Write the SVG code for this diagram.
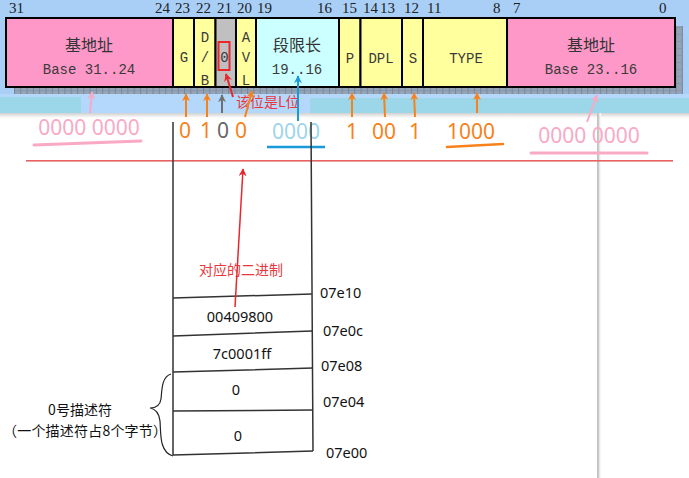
<svg xmlns="http://www.w3.org/2000/svg" width="689" height="478" viewBox="0 0 689 478">
<style>
.bit{font-family:"Liberation Serif",serif;font-size:15px;fill:#222}
.cell{stroke:#000;stroke-width:2}
.cj{font-family:"Noto Sans CJK SC",sans-serif;font-size:16px;fill:#333;text-anchor:middle}
.mo{font-family:"Liberation Mono",monospace;font-size:14px;fill:#3a3a3a;text-anchor:middle}
.bin{font-family:"Noto Sans",sans-serif;font-size:21px;text-anchor:middle}
.mem{font-family:"Noto Sans",sans-serif;font-size:14.5px;fill:#111}
.cn{font-family:"Noto Sans CJK SC",sans-serif;font-size:14px;fill:#111}
.red{font-family:"Noto Sans CJK SC",sans-serif;font-size:14px;fill:#e8383d}
.tl{stroke:#333;stroke-width:1.5;fill:none}
</style>
<defs>
<pattern id="grid" x="14" y="87" width="6.3" height="7" patternUnits="userSpaceOnUse">
<rect width="6.3" height="7" fill="#94a3b5"/>
<line x1="0.5" y1="0" x2="0.5" y2="7" stroke="#75859a" stroke-width="1"/>
<line x1="0" y1="3.5" x2="6.3" y2="3.5" stroke="#8090a4" stroke-width="0.6"/>
</pattern>
<linearGradient id="sh" x1="0" y1="0" x2="0" y2="1">
<stop offset="0" stop-color="#d0d0d0"/>
<stop offset="1" stop-color="#ffffff"/>
</linearGradient>
<linearGradient id="vsh" x1="0" y1="0" x2="1" y2="0">
<stop offset="0" stop-color="#c0c0c0"/>
<stop offset="1" stop-color="#ffffff"/>
</linearGradient>
<marker id="ao" viewBox="0 0 10 10" refX="9" refY="5" markerWidth="8" markerHeight="8" markerUnits="userSpaceOnUse" orient="auto"><path d="M0,0 L10,5 L0,10 L3,5 z" fill="#f7821b"/></marker>
<marker id="ag" viewBox="0 0 10 10" refX="9" refY="5" markerWidth="8" markerHeight="8" markerUnits="userSpaceOnUse" orient="auto"><path d="M0,0 L10,5 L0,10 L3,5 z" fill="#707070"/></marker>
<marker id="ar" viewBox="0 0 10 10" refX="9" refY="5" markerWidth="8" markerHeight="8" markerUnits="userSpaceOnUse" orient="auto"><path d="M0,0 L10,5 L0,10 L3,5 z" fill="#e8262d"/></marker>
<marker id="ab" viewBox="0 0 10 10" refX="9" refY="5" markerWidth="8" markerHeight="8" markerUnits="userSpaceOnUse" orient="auto"><path d="M0,0 L10,5 L0,10 L3,5 z" fill="#1a9ad6"/></marker>
<marker id="ap" viewBox="0 0 10 10" refX="9" refY="5" markerWidth="8" markerHeight="8" markerUnits="userSpaceOnUse" orient="auto"><path d="M0,0 L10,5 L0,10 L3,5 z" fill="#f9a9c5"/></marker>
</defs>

<!-- background -->
<rect x="0" y="0" width="689" height="478" fill="#ffffff"/>
<rect x="0" y="0" width="689" height="113" fill="#a9cff7"/>
<rect x="0" y="94" width="689" height="19" fill="#b4d7fc"/>
<rect x="0" y="97" width="81" height="16" fill="#9bd7e8"/>
<rect x="310" y="98" width="379" height="15" fill="#9bd7e8"/>
<rect x="0" y="113" width="689" height="5" fill="url(#sh)"/>
<rect x="597" y="113" width="4" height="365" fill="url(#vsh)"/>
<line x1="598" y1="113" x2="598" y2="478" stroke="#bdbdbd" stroke-width="1"/>

<!-- shadow stripe -->
<rect x="14" y="87" width="669" height="7" fill="url(#grid)"/>
<rect x="675" y="26" width="8" height="61" fill="url(#grid)"/>

<!-- bit numbers -->
<g id="bits" class="bit">
<text x="9" y="13">31</text>
<text x="155" y="13">24</text>
<text x="175" y="13">23</text>
<text x="196" y="13">22</text>
<text x="217" y="13">21</text>
<text x="237" y="13">20</text>
<text x="257" y="13">19</text>
<text x="317" y="13">16</text>
<text x="342" y="13">15</text>
<text x="363" y="13">14</text>
<text x="380" y="13">13</text>
<text x="404" y="13">12</text>
<text x="427" y="13">11</text>
<text x="493" y="13">8</text>
<text x="513" y="13">7</text>
<text x="659" y="13">0</text>
</g>

<!-- descriptor cells -->
<g id="base-hi">
<rect class="cell" x="6" y="18" width="167" height="69" fill="#fe98c9"/>
<text class="cj" x="89" y="51">基地址</text>
<text class="mo" x="89" y="74">Base 31..24</text>
</g>
<g id="g-bit">
<rect class="cell" x="173" y="18" width="21" height="69" fill="#ffff9e"/>
<text class="mo" x="184" y="62">G</text>
</g>
<g id="db-bit">
<rect class="cell" x="194" y="18" width="21.5" height="69" fill="#ffff9e"/>
<text class="mo" x="205" y="42">D</text>
<text class="mo" x="205" y="62">/</text>
<text class="mo" x="205" y="85">B</text>
</g>
<g id="zero-bit">
<rect class="cell" x="215.5" y="18" width="20.5" height="69" fill="#c0c0c0"/>
<rect x="218.5" y="42" width="11" height="28" fill="none" stroke="#e8262d" stroke-width="2"/>
<text class="mo" x="224.5" y="62">0</text>
</g>
<g id="avl-bit">
<rect class="cell" x="236" y="18" width="20" height="69" fill="#ffff9e"/>
<text class="mo" x="246" y="42">A</text>
<text class="mo" x="246" y="62">V</text>
<text class="mo" x="246" y="85">L</text>
</g>
<g id="limit">
<rect class="cell" x="256" y="18" width="83" height="69" fill="#ccffff"/>
<text class="cj" x="297" y="51">段限长</text>
<text class="mo" x="297" y="74">19..16</text>
</g>
<g id="p-bit">
<rect class="cell" x="339" y="18" width="21.5" height="69" fill="#ffff9e"/>
<text class="mo" x="350" y="63">P</text>
</g>
<g id="dpl">
<rect class="cell" x="360.5" y="18" width="41.5" height="69" fill="#ffff9e"/>
<text class="mo" x="381" y="63">DPL</text>
</g>
<g id="s-bit">
<rect class="cell" x="402" y="18" width="21" height="69" fill="#ffff9e"/>
<text class="mo" x="413" y="63">S</text>
</g>
<g id="type">
<rect class="cell" x="423" y="18" width="84" height="69" fill="#ffff9e"/>
<text class="mo" x="466" y="63">TYPE</text>
</g>
<g id="base-lo">
<rect class="cell" x="507" y="18" width="168" height="69" fill="#fe98c9"/>
<text class="cj" x="591" y="51">基地址</text>
<text class="mo" x="591" y="74">Base 23..16</text>
</g>

<!-- binary values -->
<g id="binary">
<text class="bin" x="89" y="135" fill="#f9a9c5" font-size="22">0000 0000</text>
<path d="M34,145 L141,141" stroke="#f9a9c5" stroke-width="3" fill="none" stroke-linecap="round"/>
<text class="bin" x="185" y="138" fill="#f7821b">0</text>
<text class="bin" x="206" y="138" fill="#f7821b">1</text>
<text class="bin" x="223" y="138" fill="#666666">0</text>
<text class="bin" x="241" y="138" fill="#f7821b">0</text>
<text class="bin" x="296" y="139" fill="#9dd5ea">0000</text>
<line x1="267" y1="147" x2="325" y2="147" stroke="#1a9ad6" stroke-width="2.5"/>
<text class="bin" x="352" y="139" fill="#f7821b">1</text>
<text class="bin" x="384" y="139" fill="#f7821b">00</text>
<text class="bin" x="415" y="139" fill="#f7821b">1</text>
<text class="bin" x="471" y="139" fill="#f7821b">1000</text>
<path d="M447,147 L503,144" stroke="#f7821b" stroke-width="2.5" fill="none" stroke-linecap="round"/>
<text class="bin" x="589" y="143" fill="#f9a9c5">0000 0000</text>
<path d="M531,153 L647,153" stroke="#f9a9c5" stroke-width="3" fill="none" stroke-linecap="round"/>
</g>

<rect x="26" y="160" width="647" height="1.6" fill="#e66262"/>

<!-- memory table -->
<g id="memory-table">
<path class="tl" d="M173,122 L173,455 M311,122 L313,451"/>
<path class="tl" d="M173,298 L312,294 M173,336 L312,331 M173,372 L313,368 M173,411 L313,410 M173,455 L313,451"/>
</g>
<g id="row-07e0c">
<text class="mem" x="240" y="322" text-anchor="middle">00409800</text>
</g>
<g id="row-07e08">
<text class="mem" x="242" y="359" text-anchor="middle">7c0001ff</text>
</g>
<g id="row-07e04">
<text class="mem" x="236" y="395" text-anchor="middle">0</text>
</g>
<g id="row-07e00">
<text class="mem" x="238" y="441" text-anchor="middle">0</text>
</g>
<g id="addresses" class="mem">
<text x="320" y="298">07e10</text>
<text x="323" y="336">07e0c</text>
<text x="321" y="371">07e08</text>
<text x="323" y="407">07e04</text>
<text x="326" y="458">07e00</text>
</g>

<g id="descriptor0">
<path d="M171,374 C161,377 162,392 161,399 C160,406 156,408 150,408 C156,409 159,413 160,421 C161,433 159,452 173,456" fill="none" stroke="#222" stroke-width="1.2"/>
<text class="cn" x="80" y="415" text-anchor="middle" font-size="15">0号描述符</text>
<text class="cn" x="3" y="436" textLength="164" lengthAdjust="spacing">（一个描述符占8个字节）</text>
</g>

<g id="labels">
<text class="red" x="236" y="107">该位是L位</text>
<text class="red" x="199" y="275" font-size="15">对应的二进制</text>
</g>

<!-- connectors -->
<g id="connectors" fill="none" stroke-width="2">
<line x1="90" y1="113" x2="92" y2="92" stroke="#f9a9c5" marker-end="url(#ap)"/>
<line x1="587" y1="122" x2="597" y2="95" stroke="#f9a9c5" marker-end="url(#ap)"/>
<line x1="186" y1="117" x2="186" y2="94" stroke="#f7821b" marker-end="url(#ao)"/>
<line x1="207" y1="117" x2="207" y2="94" stroke="#f7821b" marker-end="url(#ao)"/>
<line x1="222" y1="113" x2="222" y2="95" stroke="#707070" marker-end="url(#ag)"/>
<line x1="245" y1="117" x2="252" y2="91" stroke="#f7821b" marker-end="url(#ao)"/>
<line x1="233" y1="97" x2="226" y2="74" stroke="#e8262d" marker-end="url(#ar)"/>
<line x1="298" y1="121" x2="298" y2="76" stroke="#1a9ad6" marker-end="url(#ab)"/>
<line x1="352" y1="117" x2="352" y2="93" stroke="#f7821b" marker-end="url(#ao)"/>
<line x1="385" y1="117" x2="384" y2="93" stroke="#f7821b" marker-end="url(#ao)"/>
<line x1="415" y1="117" x2="414" y2="93" stroke="#f7821b" marker-end="url(#ao)"/>
<line x1="477" y1="113" x2="477" y2="93" stroke="#f7821b" marker-end="url(#ao)"/>
<line x1="235" y1="307" x2="243" y2="169" stroke="#e8262d" stroke-width="1.5" marker-end="url(#ar)"/>
</g>
</svg>
